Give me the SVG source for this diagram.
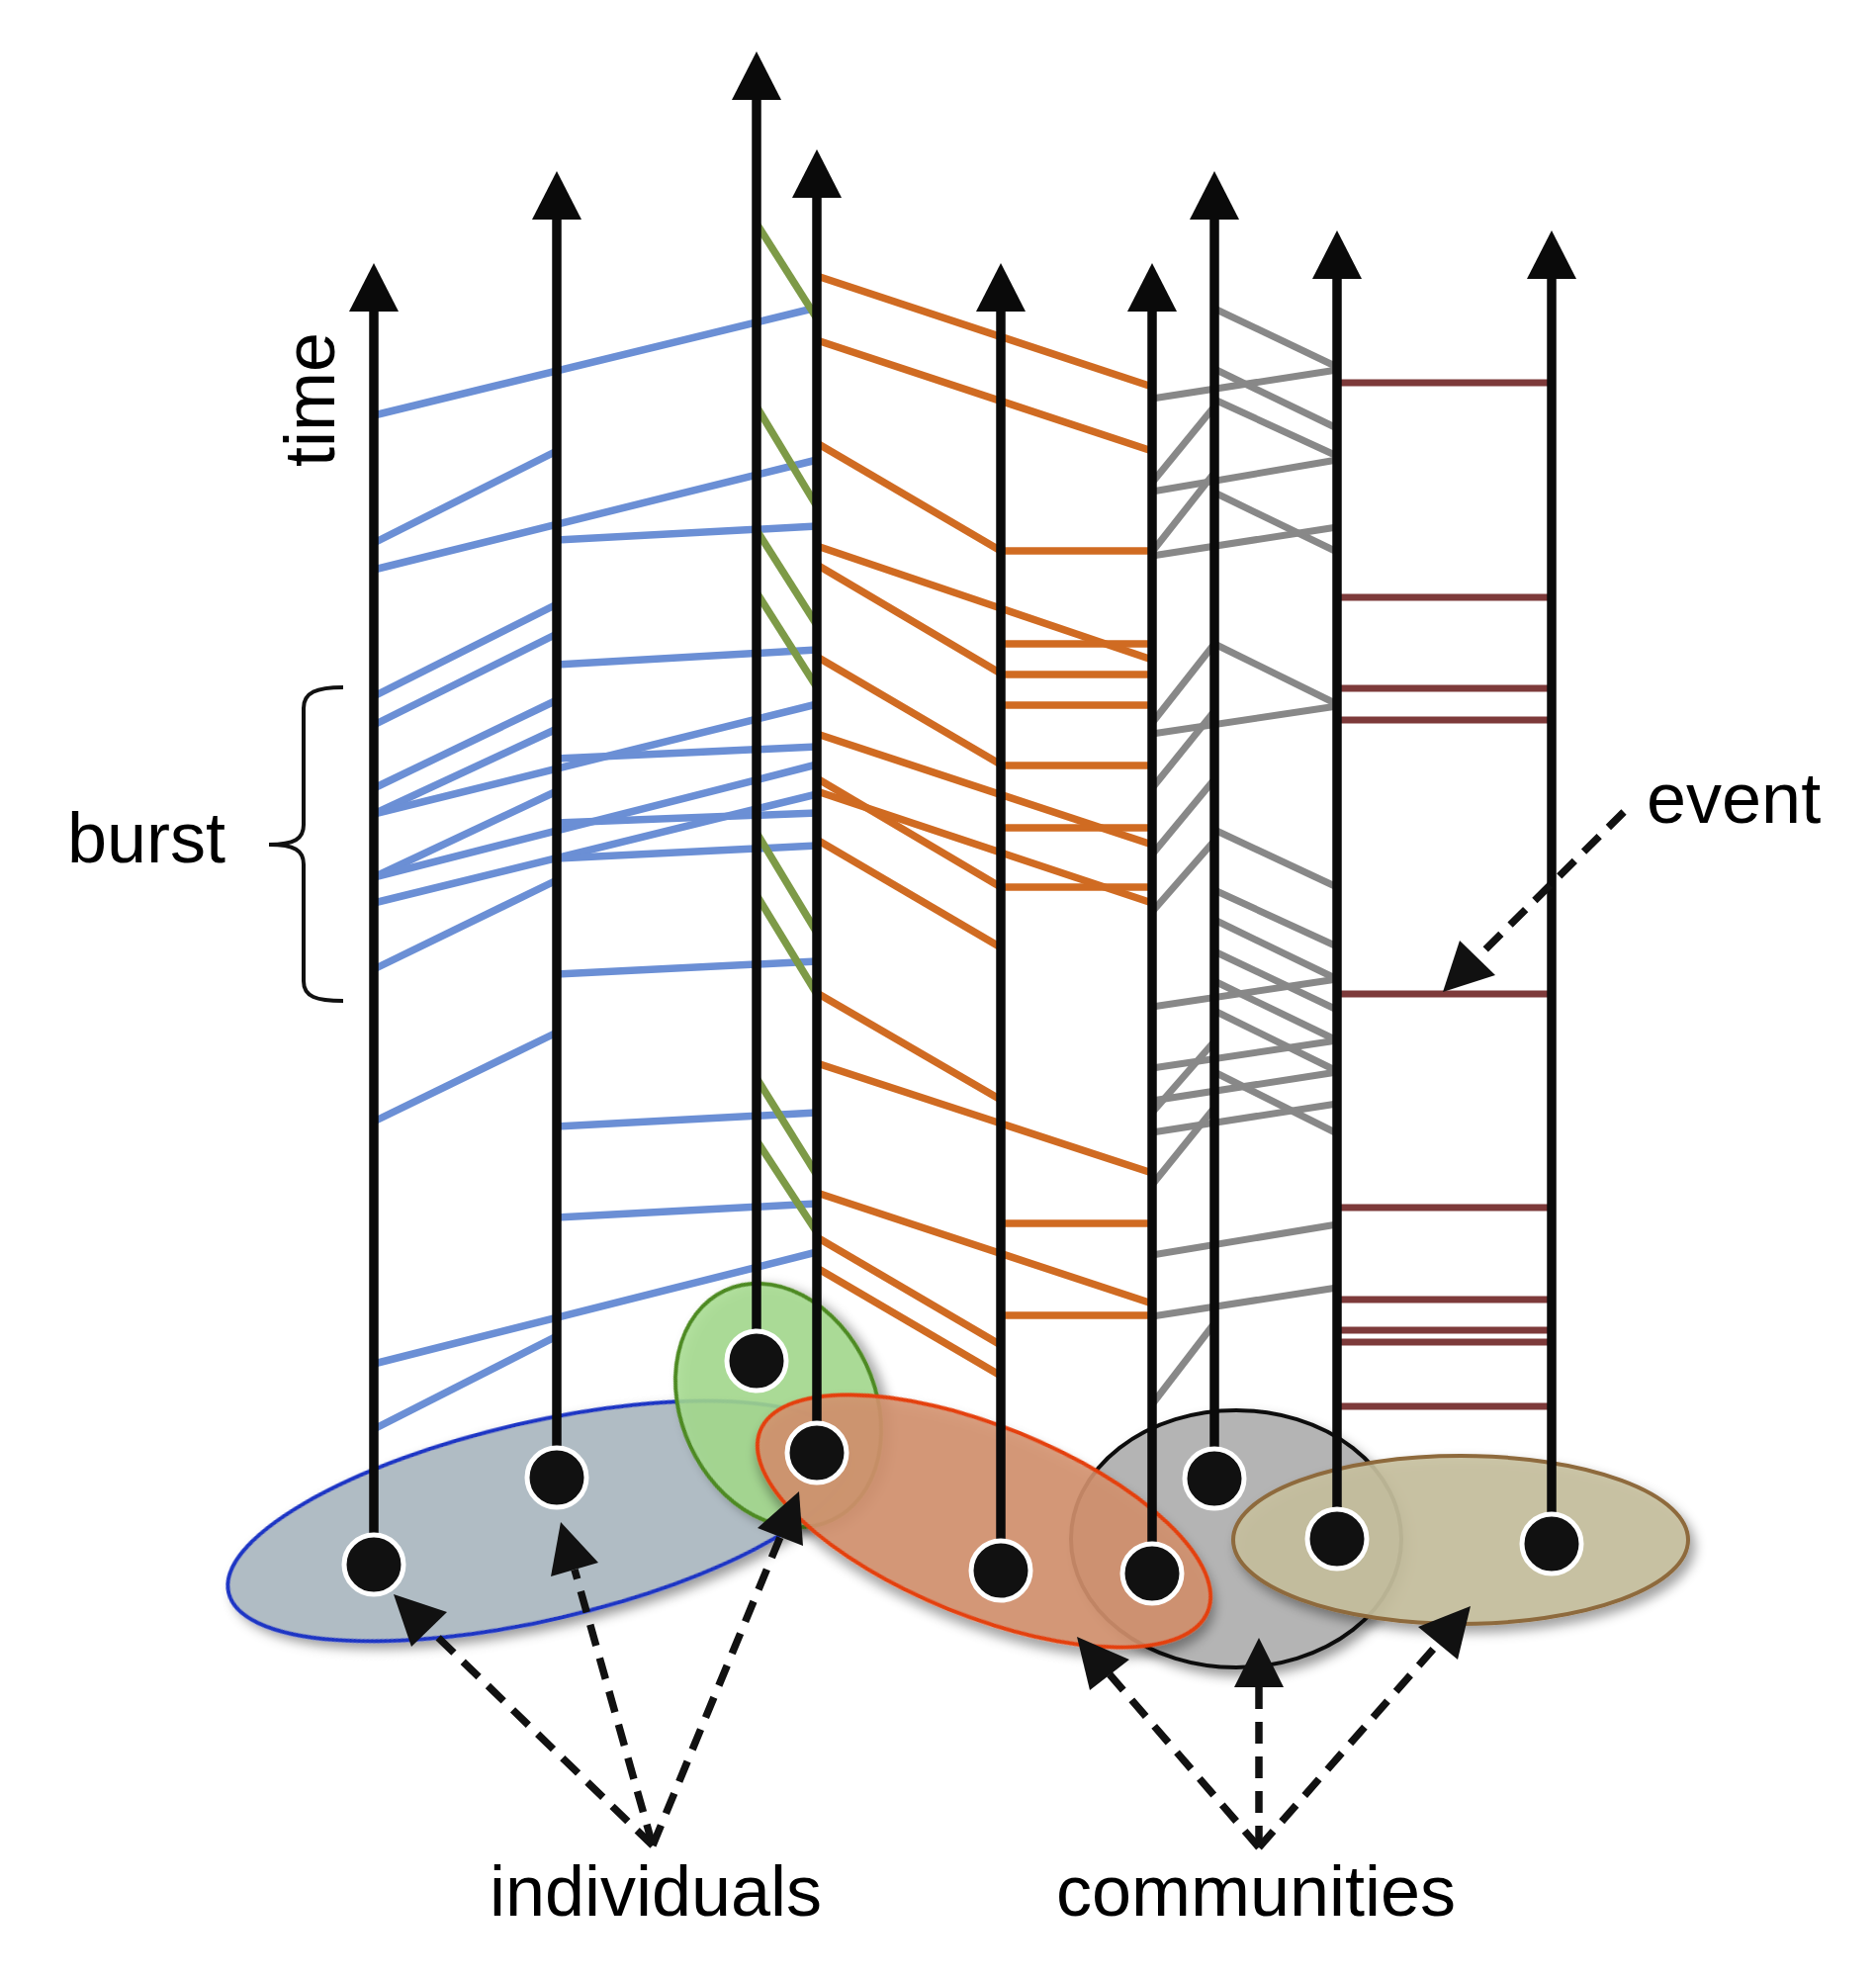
<svg xmlns="http://www.w3.org/2000/svg" width="1897" height="2000" viewBox="0 0 1897 2000">
<style>
.bl{stroke:#6b8fd5;stroke-width:7.5}
.gr{stroke:#7d9a47;stroke-width:7.5}
.or{stroke:#d06b22;stroke-width:7.5}
.gy{stroke:#888888;stroke-width:7}
.rd{stroke:#7d3a3a;stroke-width:7}
.ax{stroke:#0a0a0a;stroke-width:9.5}
.hd{fill:#0a0a0a}
.dot{fill:#111111;stroke:#ffffff;stroke-width:5}
.dash{stroke:#111111;stroke-width:7.5;stroke-dasharray:22 13;fill:none}
.ah{fill:#111111}
.lbl{font-family:"Liberation Sans",Arial,Helvetica,sans-serif;font-size:72px;fill:#000000}
.comm{stroke-width:4}
</style>
<defs>
<filter id="sh" x="-20%" y="-20%" width="140%" height="150%">
<feDropShadow dx="5" dy="7" stdDeviation="6" flood-color="#000000" flood-opacity="0.4"/>
</filter>
</defs>
<rect width="1897" height="2000" fill="#ffffff"/>

<g id="communities">
<g id="comm-blue"><ellipse cx="545" cy="1538" rx="322" ry="100" transform="rotate(-13 545 1538)" fill="#b0bcc4" stroke="#1d35c4" class="comm" filter="url(#sh)"/></g>
<g id="comm-green"><ellipse cx="787" cy="1421" rx="98" ry="128" transform="rotate(-25 787 1421)" fill="#a6dc8e" fill-opacity="0.85" stroke="#4e8a22" class="comm" filter="url(#sh)"/></g>
<g id="comm-gray"><ellipse cx="1250" cy="1556" rx="167" ry="130" fill="#b4b4b4" stroke="#111111" class="comm" filter="url(#sh)"/></g>
<g id="comm-orange"><ellipse cx="995" cy="1538" rx="244" ry="96" transform="rotate(22 995 1538)" fill="#d4926e" fill-opacity="0.88" stroke="#e4400c" class="comm" filter="url(#sh)"/></g>
<g id="comm-tan"><ellipse cx="1477" cy="1557" rx="230" ry="85" fill="#c6c09f" fill-opacity="0.9" stroke="#8e6a3c" class="comm" filter="url(#sh)"/></g>
</g>

<g id="connectors">
<g id="blue-links" class="bl">
<line x1="378" y1="420" x2="826" y2="311"/>
<line x1="378" y1="549" x2="563" y2="456"/>
<line x1="378" y1="576" x2="826" y2="465"/>
<line x1="563" y1="546" x2="826" y2="532"/>
<line x1="378" y1="704" x2="563" y2="611"/>
<line x1="378" y1="733" x2="563" y2="641"/>
<line x1="563" y1="672" x2="826" y2="657"/>
<line x1="378" y1="797" x2="563" y2="708"/>
<line x1="378" y1="823" x2="563" y2="737"/>
<line x1="378" y1="823" x2="826" y2="712"/>
<line x1="563" y1="767" x2="826" y2="755"/>
<line x1="378" y1="887" x2="563" y2="800"/>
<line x1="378" y1="887" x2="826" y2="773"/>
<line x1="563" y1="832" x2="826" y2="822"/>
<line x1="378" y1="913" x2="826" y2="803"/>
<line x1="563" y1="868" x2="826" y2="855"/>
<line x1="378" y1="980" x2="563" y2="890"/>
<line x1="563" y1="985" x2="826" y2="972"/>
<line x1="378" y1="1134" x2="563" y2="1044"/>
<line x1="563" y1="1139" x2="826" y2="1125"/>
<line x1="563" y1="1231" x2="826" y2="1217"/>
<line x1="378" y1="1379" x2="826" y2="1266"/>
<line x1="378" y1="1445" x2="563" y2="1351"/>
</g>
<g id="green-links" class="gr">
<line x1="765" y1="226" x2="826" y2="322"/>
<line x1="765" y1="411" x2="826" y2="512"/>
<line x1="765" y1="536" x2="826" y2="632"/>
<line x1="765" y1="599" x2="826" y2="695"/>
<line x1="765" y1="842" x2="826" y2="943"/>
<line x1="765" y1="905" x2="826" y2="1005"/>
<line x1="765" y1="1090" x2="826" y2="1188"/>
<line x1="765" y1="1153" x2="826" y2="1246"/>
</g>
<g id="orange-links" class="or">
<line x1="826" y1="279" x2="1165" y2="391"/>
<line x1="826" y1="344" x2="1165" y2="456"/>
<line x1="826" y1="448" x2="1012" y2="557"/>
<line x1="1012" y1="557" x2="1165" y2="557"/>
<line x1="826" y1="552" x2="1165" y2="667"/>
<line x1="826" y1="571" x2="1012" y2="681"/>
<line x1="1012" y1="651" x2="1165" y2="651"/>
<line x1="1012" y1="682" x2="1165" y2="682"/>
<line x1="1012" y1="713" x2="1165" y2="713"/>
<line x1="826" y1="664" x2="1012" y2="773"/>
<line x1="1012" y1="774" x2="1165" y2="774"/>
<line x1="826" y1="742" x2="1165" y2="854"/>
<line x1="826" y1="787" x2="1012" y2="897"/>
<line x1="826" y1="800" x2="1165" y2="913"/>
<line x1="1012" y1="837" x2="1165" y2="837"/>
<line x1="1012" y1="897" x2="1165" y2="897"/>
<line x1="826" y1="849" x2="1012" y2="958"/>
<line x1="826" y1="1004" x2="1012" y2="1112"/>
<line x1="826" y1="1075" x2="1165" y2="1186"/>
<line x1="1012" y1="1237" x2="1165" y2="1237"/>
<line x1="826" y1="1206" x2="1165" y2="1318"/>
<line x1="826" y1="1251" x2="1012" y2="1360"/>
<line x1="826" y1="1282" x2="1012" y2="1391"/>
<line x1="1012" y1="1330" x2="1165" y2="1330"/>
</g>
<g id="gray-links" class="gy">
<line x1="1228" y1="312" x2="1352" y2="371"/>
<line x1="1165" y1="403" x2="1352" y2="374"/>
<line x1="1228" y1="373" x2="1352" y2="433"/>
<line x1="1228" y1="404" x2="1352" y2="461"/>
<line x1="1165" y1="488" x2="1228" y2="411"/>
<line x1="1165" y1="497" x2="1352" y2="465"/>
<line x1="1165" y1="558" x2="1228" y2="478"/>
<line x1="1228" y1="498" x2="1352" y2="558"/>
<line x1="1165" y1="562" x2="1352" y2="533"/>
<line x1="1165" y1="731" x2="1228" y2="651"/>
<line x1="1228" y1="651" x2="1352" y2="712"/>
<line x1="1165" y1="742" x2="1352" y2="714"/>
<line x1="1165" y1="797" x2="1228" y2="719"/>
<line x1="1165" y1="864" x2="1228" y2="788"/>
<line x1="1165" y1="922" x2="1228" y2="850"/>
<line x1="1228" y1="839" x2="1352" y2="897"/>
<line x1="1228" y1="900" x2="1352" y2="957"/>
<line x1="1228" y1="930" x2="1352" y2="990"/>
<line x1="1228" y1="962" x2="1352" y2="1021"/>
<line x1="1228" y1="992" x2="1352" y2="1052"/>
<line x1="1228" y1="1022" x2="1352" y2="1083"/>
<line x1="1165" y1="1018" x2="1352" y2="990"/>
<line x1="1165" y1="1080" x2="1352" y2="1052"/>
<line x1="1165" y1="1113" x2="1352" y2="1084"/>
<line x1="1165" y1="1145" x2="1352" y2="1116"/>
<line x1="1165" y1="1125" x2="1228" y2="1053"/>
<line x1="1228" y1="1084" x2="1352" y2="1146"/>
<line x1="1165" y1="1198" x2="1228" y2="1120"/>
<line x1="1165" y1="1269" x2="1352" y2="1238"/>
<line x1="1165" y1="1331" x2="1352" y2="1302"/>
<line x1="1165" y1="1420" x2="1228" y2="1338"/>
</g>
<g id="red-links" class="rd">
<line x1="1352" y1="387" x2="1569" y2="387"/>
<line x1="1352" y1="604" x2="1569" y2="604"/>
<line x1="1352" y1="696" x2="1569" y2="696"/>
<line x1="1352" y1="728" x2="1569" y2="728"/>
<line x1="1352" y1="1005" x2="1569" y2="1005"/>
<line x1="1352" y1="1221" x2="1569" y2="1221"/>
<line x1="1352" y1="1314" x2="1569" y2="1314"/>
<line x1="1352" y1="1345" x2="1569" y2="1345"/>
<line x1="1352" y1="1357" x2="1569" y2="1357"/>
<line x1="1352" y1="1422" x2="1569" y2="1422"/>
</g>
</g>

<g id="individuals">
<g id="ind1"><line class="ax" x1="378" y1="1582" x2="378" y2="305"/><polygon class="hd" points="378,266 403,315 353,315"/><circle class="dot" cx="378" cy="1582" r="30"/></g>
<g id="ind2"><line class="ax" x1="563" y1="1494" x2="563" y2="212"/><polygon class="hd" points="563,173 588,222 538,222"/><circle class="dot" cx="563" cy="1494" r="30"/></g>
<g id="ind3"><line class="ax" x1="765" y1="1376" x2="765" y2="91"/><polygon class="hd" points="765,52 790,101 740,101"/><circle class="dot" cx="765" cy="1376" r="30"/></g>
<g id="ind4"><line class="ax" x1="826" y1="1469" x2="826" y2="190"/><polygon class="hd" points="826,151 851,200 801,200"/><circle class="dot" cx="826" cy="1469" r="30"/></g>
<g id="ind5"><line class="ax" x1="1012" y1="1588" x2="1012" y2="305"/><polygon class="hd" points="1012,266 1037,315 987,315"/><circle class="dot" cx="1012" cy="1588" r="30"/></g>
<g id="ind6"><line class="ax" x1="1165" y1="1591" x2="1165" y2="305"/><polygon class="hd" points="1165,266 1190,315 1140,315"/><circle class="dot" cx="1165" cy="1591" r="30"/></g>
<g id="ind7"><line class="ax" x1="1228" y1="1495" x2="1228" y2="212"/><polygon class="hd" points="1228,173 1253,222 1203,222"/><circle class="dot" cx="1228" cy="1495" r="30"/></g>
<g id="ind8"><line class="ax" x1="1352" y1="1556" x2="1352" y2="272"/><polygon class="hd" points="1352,233 1377,282 1327,282"/><circle class="dot" cx="1352" cy="1556" r="30"/></g>
<g id="ind9"><line class="ax" x1="1569" y1="1561" x2="1569" y2="272"/><polygon class="hd" points="1569,233 1594,282 1544,282"/><circle class="dot" cx="1569" cy="1561" r="30"/></g>
</g>

<g id="annotation-arrows">
<line class="dash" x1="660" y1="1866" x2="434" y2="1647"/>
<polygon class="ah" points="398,1612 452,1630 416,1665"/>
<line class="dash" x1="660" y1="1866" x2="581" y2="1587"/>
<polygon class="ah" points="567,1539 605,1580 557,1594"/>
<line class="dash" x1="660" y1="1866" x2="789" y2="1554"/>
<polygon class="ah" points="808,1508 812,1563 766,1545"/>
<line class="dash" x1="1273" y1="1868" x2="1122" y2="1693"/>
<polygon class="ah" points="1089,1655 1142,1678 1102,1709"/>
<line class="dash" x1="1273" y1="1868" x2="1273" y2="1706"/>
<polygon class="ah" points="1273,1656 1298,1706 1248,1706"/>
<line class="dash" x1="1273" y1="1868" x2="1454" y2="1662"/>
<polygon class="ah" points="1487,1624 1474,1678 1434,1645"/>
<line class="dash" x1="1642" y1="821" x2="1494" y2="968"/>
<polygon class="ah" points="1459,1003 1476,951 1512,986"/>
</g>

<g id="burst-brace">
<path d="M347,695 C320,695 307,700 307,716 L307,834 C307,848 298,854 272,854 C298,854 307,860 307,874 L307,992 C307,1008 320,1012 347,1012" fill="none" stroke="#111111" stroke-width="4"/>
</g>

<g id="labels">
<text class="lbl" x="68" y="872">burst</text>
<text class="lbl" transform="translate(338,472) rotate(-90)">time</text>
<text class="lbl" x="1665" y="832">event</text>
<text class="lbl" x="663" y="1937" text-anchor="middle">individuals</text>
<text class="lbl" x="1270" y="1937" text-anchor="middle">communities</text>
</g>
</svg>
